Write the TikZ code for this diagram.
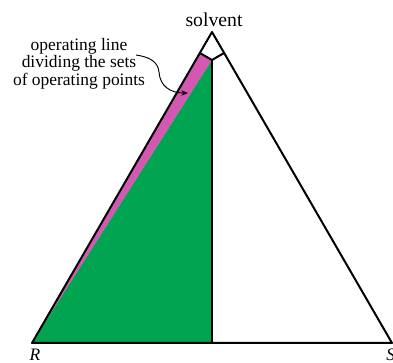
\documentclass[tikz,border=0pt]{standalone}
\usepackage{fontspec}
\setmainfont{Liberation Serif}
\usetikzlibrary{calc,arrows.meta}
\definecolor{opgreen}{RGB}{0,163,80}
\definecolor{opmagenta}{RGB}{212,88,178}
\tikzset{
  edge/.style={line width=1.5pt,line join=round},
  lbl/.style={inner sep=0pt,font=\fontsize{13.1}{13.1}\selectfont},
  pointer/.style={line width=0.7pt,-{Stealth[length=5pt,width=4pt]}}
}
\begin{document}
\begin{tikzpicture}[x=0.75pt,y=-0.75pt]
\useasboundingbox (0,0) rectangle (393,363);
\coordinate (A) at (212,32);
\coordinate (R) at (32,343);
\coordinate (S) at (392,343);
\coordinate (P) at (212,60);
\coordinate (B) at (212,343);
\coordinate (L) at ($(R)!(P)!(A)$);
\coordinate (M) at ($(S)!(P)!(A)$);
\fill[opmagenta] (R) -- (L) -- (P) -- cycle;
\fill[opgreen] (R) -- (P) -- (B) -- cycle;
\draw[edge] (R) -- (A) -- (S) -- cycle;
\draw[edge] (L) -- (P) -- (M);
\draw[edge] (P) -- (B);
\node[lbl,anchor=base,font=\fontsize{14.8}{14.8}\selectfont] (solv) at (214,26.5) {solvent};
\node[lbl,anchor=center,align=center] (oplbl) at (79,63.5) {operating line\\dividing the sets\\of operating points};
\node[lbl,anchor=base] (Rl) at (35,361) {\itshape R};
\node[lbl,anchor=base west] (Sl) at (386,361) {\itshape S};
\coordinate (tipend) at (188,93);
\draw[pointer] (136,55) .. controls (150,57) and (158,62) .. (159,72) .. controls (160,86) and (170,93) .. (tipend);
\end{tikzpicture}
\end{document}
